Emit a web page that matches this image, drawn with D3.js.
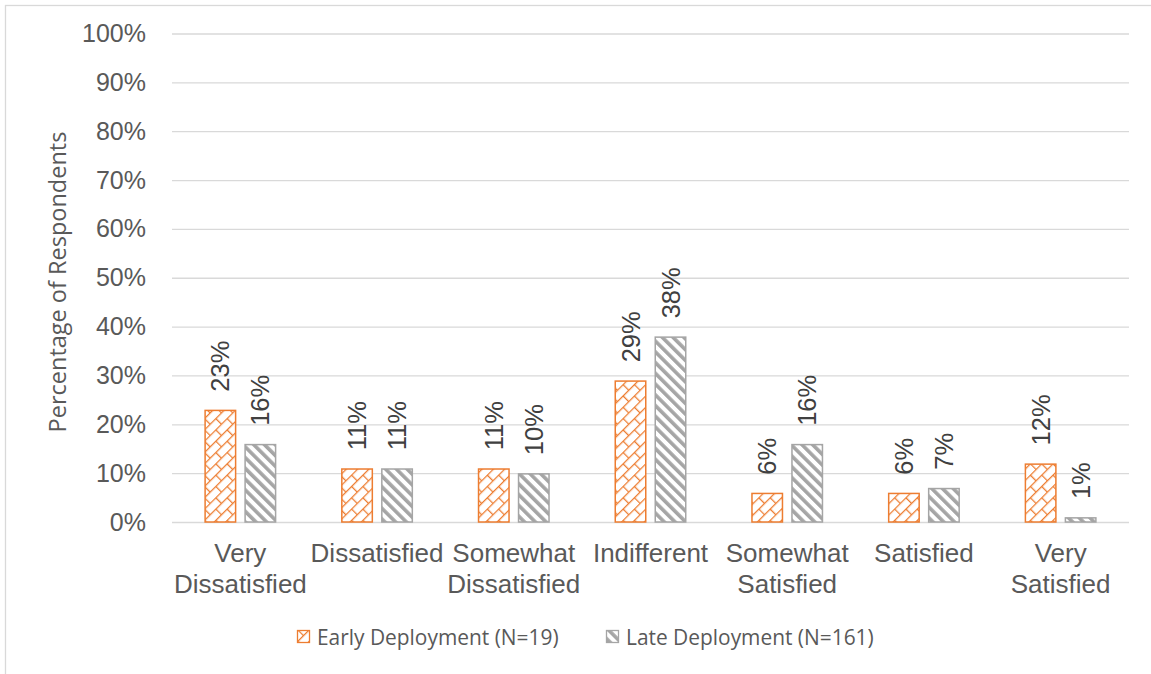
<!DOCTYPE html>
<html>
<head>
<meta charset="utf-8">
<script src="https://cdnjs.cloudflare.com/ajax/libs/d3/7.8.5/d3.min.js"></script>
<style>
  html, body { margin: 0; padding: 0; background: #fff; }
  svg { display: block; }
</style>
</head>
<body>
<svg id="chart" width="1151" height="674"></svg>
<script>
// Satisfaction survey responses, by deployment group
const categories = [
  ["Very", "Dissatisfied"],
  ["Dissatisfied"],
  ["Somewhat", "Dissatisfied"],
  ["Indifferent"],
  ["Somewhat", "Satisfied"],
  ["Satisfied"],
  ["Very", "Satisfied"]
];
const seriesNames = ["Early Deployment (N=19)", "Late Deployment (N=161)"];
const earlyValues = [0.23, 0.11, 0.11, 0.29, 0.06, 0.06, 0.12];
const lateValues  = [0.16, 0.11, 0.10, 0.38, 0.16, 0.07, 0.01];
const yTicks = [0, 0.1, 0.2, 0.3, 0.4, 0.5, 0.6, 0.7, 0.8, 0.9, 1.0];

const orange = "#ED7D31";
const gray = "#A5A5A5";
const gridColor = "#D9D9D9";

const svg = d3.select("#chart");
const W = 1151, H = 674;

// chart frame
svg.append("rect")
  .attr("x", 5.5).attr("y", 5.5)
  .attr("width", W + 10).attr("height", H + 10)
  .attr("fill", "#fff").attr("stroke", gridColor).attr("stroke-width", 1.3);

// fill patterns
const defs = svg.append("defs");
const brick = defs.append("pattern")
  .attr("id", "brick").attr("patternUnits", "userSpaceOnUse")
  .attr("width", 16).attr("height", 16)
  .attr("patternTransform", "rotate(-45)");
brick.append("rect").attr("width", 16).attr("height", 16).attr("fill", "#fff");
brick.append("path")
  .attr("d", "M0,0.6H16M0,8.6H16M0.6,0V8M8.6,8V16")
  .attr("stroke", orange).attr("stroke-width", 1.3).attr("fill", "none");

const stripe = defs.append("pattern")
  .attr("id", "stripe").attr("patternUnits", "userSpaceOnUse")
  .attr("width", 7.6).attr("height", 7.6)
  .attr("patternTransform", "rotate(-45)");
stripe.append("rect").attr("width", 7.6).attr("height", 7.6).attr("fill", "#fff");
stripe.append("rect").attr("width", 3.6).attr("height", 7.6).attr("fill", gray);

const fills = ["url(#brick)", "url(#stripe)"];
const strokes = [orange, gray];

// scales
const x0 = d3.scaleBand().domain(d3.range(categories.length)).range([172, 1129]);
const y = d3.scaleLinear().domain([0, 1]).range([522, 33.5]);

// gridlines
const yAxis = d3.axisLeft(y).tickValues(yTicks)
  .tickFormat(d3.format(".0%")).tickSize(-(1129 - 172)).tickPadding(26);
const gy = svg.append("g").attr("transform", "translate(172,0)").call(yAxis);
gy.select(".domain").remove();
gy.selectAll(".tick line").attr("stroke", gridColor).attr("stroke-width", 1.3);
gy.selectAll(".tick text")
  .attr("fill", "#595959")
  .style("font-family", "'Liberation Sans', Arial, sans-serif")
  .style("font-size", "25px");

// axis title
svg.append("text")
  .attr("transform", "translate(57,282) rotate(-90)")
  .attr("text-anchor", "middle")
  .attr("dominant-baseline", "central")
  .attr("fill", "#595959")
  .style("font-family", "'Open Sans', 'Noto Sans', sans-serif")
  .style("font-size", "23.5px")
  .text("Percentage of Respondents");

// bars
const series = [earlyValues, lateValues];
categories.forEach((cat, i) => {
  const cx = x0(i) + x0.bandwidth() / 2;
  const x1 = d3.scaleBand().domain([0, 1]).range([cx - 36, cx + 36]).paddingInner(0.2);
  series.forEach((vals, s) => {
    const v = vals[i];
    const g = svg.append("g");
    g.append("rect")
      .attr("x", x1(s) + 0.75).attr("y", y(v) + 0.75)
      .attr("width", x1.bandwidth() - 1.5)
      .attr("height", Math.max(0, y(0) - y(v) - 0.75))
      .attr("fill", fills[s])
      .attr("stroke", strokes[s]).attr("stroke-width", 1.5);
    const lx = x1(s) + x1.bandwidth() / 2;
    const ly = y(v) - 18;
    g.append("text")
      .attr("transform", `translate(${lx},${ly}) rotate(-90)`)
      .attr("text-anchor", "start")
      .attr("dominant-baseline", "central")
      .attr("fill", "#404040")
      .style("font-family", "'Liberation Sans', Arial, sans-serif")
      .style("font-size", "25.5px")
      .text(d3.format(".0%")(v));
  });
});

// category labels
categories.forEach((lines, i) => {
  const cx = x0(i) + x0.bandwidth() / 2;
  const t = svg.append("text")
    .attr("text-anchor", "middle")
    .attr("fill", "#595959")
    .style("font-family", "'Liberation Sans', Arial, sans-serif")
    .style("font-size", "26px");
  lines.forEach((ln, k) => {
    t.append("tspan").attr("x", cx).attr("y", 562 + k * 31).text(ln);
  });
});

// legend
const legendX = [297, 606];
seriesNames.forEach((name, s) => {
  const g = svg.append("g").attr("transform", `translate(${legendX[s]},630)`);
  g.append("rect").attr("x", 0.5).attr("y", 0.5).attr("width", 12).attr("height", 12)
    .attr("fill", fills[s]).attr("stroke", strokes[s]).attr("stroke-width", 1.3);
  g.append("text")
    .attr("x", 20).attr("y", 7)
    .attr("dominant-baseline", "central")
    .attr("fill", "#595959")
    .style("font-family", "'Open Sans', 'Noto Sans', sans-serif")
    .style("font-size", "20.9px")
    .text(name);
});
</script>
</body>
</html>
